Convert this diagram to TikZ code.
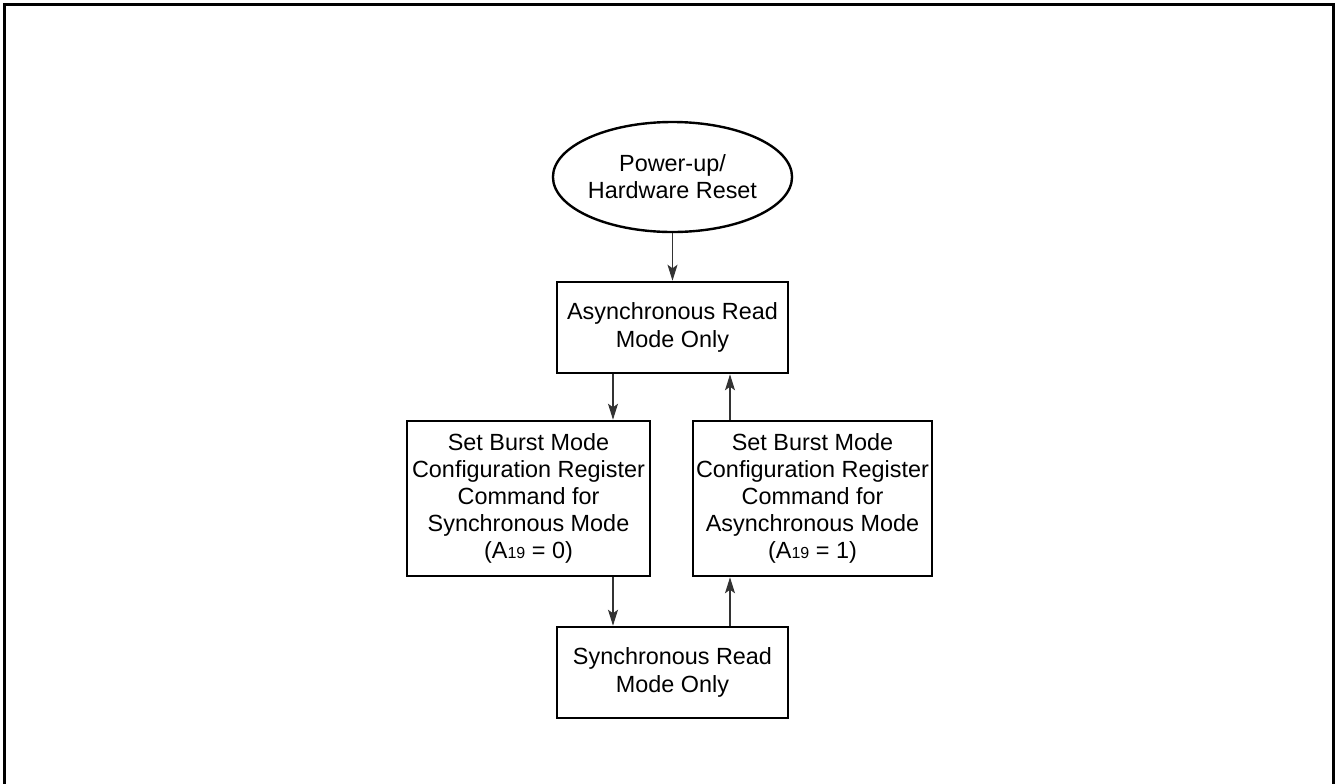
\documentclass[tikz,border=0pt]{standalone}
\usepackage{fontspec}
\setmainfont{Liberation Sans}
\usetikzlibrary{shapes.geometric,arrows.meta}
\begin{document}
\begin{tikzpicture}[x=0.5pt,y=-0.5pt,
  every node/.style={font=\fontsize{11.7}{13.6}\selectfont, align=center, inner sep=0pt},
  box/.style={draw, line width=1.3pt, rectangle},
  oval/.style={draw, line width=1.2pt, ellipse},
  arr/.style={draw=black!80, line width=0.55pt, -{Stealth[length=8pt,width=5pt,inset=1.8pt]}},
  frame/.style={line width=1.5pt}]
\useasboundingbox (0,0) rectangle (1340,783);
\draw[frame] (4,790) -- (4,4) -- (1333.5,4) -- (1333.5,790);
\node[oval, minimum width=115.5pt, minimum height=55pt] (pwr) at (672.5,177) {Power-up/\\Hardware Reset};
\node[box, minimum width=115.5pt, minimum height=45.5pt] (async) at (672.5,327.5) {Asynchronous Read\\Mode Only};
\node[box, minimum width=121.5pt, minimum height=77.5pt] (setsync) at (528.5,498.5) {Set Burst Mode\\Configuration Register\\Command for\\Synchronous Mode\\(A{\fontsize{8}{9}\selectfont 19} = 0)};
\node[box, minimum width=119.5pt, minimum height=77.5pt] (setasync) at (812.5,498.5) {Set Burst Mode\\Configuration Register\\Command for\\Asynchronous Mode\\(A{\fontsize{8}{9}\selectfont 19} = 1)};
\node[box, minimum width=115.5pt, minimum height=45.5pt] (sync) at (672.5,672.5) {Synchronous Read\\Mode Only};
\coordinate (xl) at (613,0);
\coordinate (xr) at (730,0);
\draw[arr] (pwr.south) -- (async.north);
\draw[arr] (async.south -| xl) -- (setsync.north -| xl);
\draw[arr] (setsync.south -| xl) -- (sync.north -| xl);
\draw[arr] (sync.north -| xr) -- (setasync.south -| xr);
\draw[arr] (setasync.north -| xr) -- (async.south -| xr);
\end{tikzpicture}
\end{document}
